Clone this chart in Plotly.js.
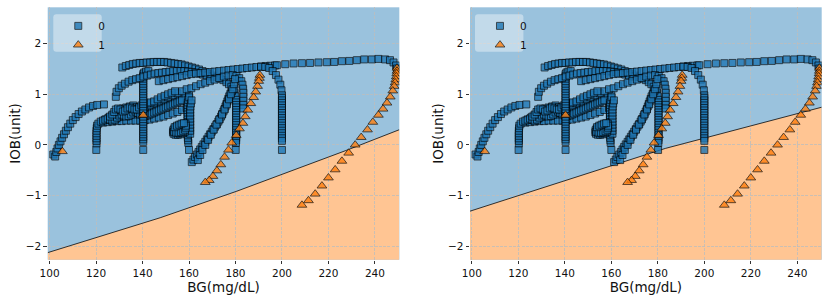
<!DOCTYPE html>
<html><head><meta charset="utf-8">
<script src="https://cdn.plot.ly/plotly-3.0.1.min.js"></script>
<style>html,body{margin:0;padding:0;background:#fff}#chart{width:830px;height:302px}</style>
</head><body><div id="chart"></div>
<script>
// ---- class 0 (squares): trajectories, [BG, IOB] ----
const lowCurve = [[101.6,-0.19],[102.4,-0.23],[102.9,-0.14],[103.4,-0.07],[104.0,0.00],[104.7,0.07],[105.4,0.14],[106.2,0.21],[107.0,0.28],[107.9,0.35],[108.9,0.42],[110.0,0.49],[111.2,0.55],[112.5,0.61],[113.9,0.66],[115.4,0.70],[117.0,0.74],[118.7,0.77],[120.5,0.79],[123.4,0.80]];
const col120 = [[120.1,-0.10],[120.2,0.03],[120.2,0.08],[120.2,0.13],[120.2,0.18],[120.2,0.23],[120.2,0.28],[120.3,0.33],[120.4,0.38]];
const darkLow = [[121,0.42],[123,0.44],[125,0.45],[127,0.46],[129,0.47],[131,0.47],[133,0.48],[135,0.48],[137,0.48],[139,0.48],[141,0.49],[143,0.5],[145,0.52],[147,0.54],[149,0.56],[151,0.59],[153,0.62],[155,0.65],[157,0.69],[159,0.73]];
const darkMid = [[124,0.5],[125.5,0.54],[127,0.55],[128.5,0.52],[130,0.55],[131.5,0.62],[133,0.66],[134.5,0.62],[136,0.6],[137.5,0.64],[139,0.68],[140.5,0.66],[142,0.64],[143.5,0.66],[145,0.7],[146.5,0.74],[148,0.76],[149.5,0.78],[151,0.8],[152.5,0.83],[154,0.86],[155.5,0.89],[157,0.92],[158.5,0.95],[160,0.98]];
const darkHigh = [[127,0.58],[128.5,0.62],[130,0.68],[131.5,0.72],[133,0.74],[134.5,0.76],[136,0.78],[137.5,0.75],[139,0.72],[141,0.74],[143,0.78],[145,0.82],[147,0.86],[149,0.9],[151,0.94],[153,0.98],[155,1.02],[157,1.06],[159,1.1]];
const darkWave = [[122,0.46],[123,0.48],[124,0.5],[125,0.52],[126,0.5],[127,0.48],[128,0.5],[129,0.54],[130,0.58],[131,0.6],[132,0.58],[133,0.56],[134,0.57],[135,0.6],[136,0.64],[137,0.66],[138,0.63],[139,0.6],[140,0.58],[141,0.57],[142,0.58],[143,0.6],[144,0.62],[145,0.64],[146,0.66],[147,0.68],[148,0.7],[149,0.72],[150,0.74],[151,0.76],[152,0.78],[153,0.8],[154,0.82],[155,0.84],[156,0.86],[157,0.88]];
const darkKnots = [[126,0.56],[127,0.6],[127.8,0.65],[128.5,0.7],[129.5,0.72],[130.5,0.7],[131.5,0.66],[132.5,0.68],[133.5,0.72],[134.5,0.74],[135.5,0.72],[136.5,0.7],[137.5,0.7],[138.5,0.74],[139.5,0.78],[140.5,0.8],[142,0.82],[143.5,0.84],[145,0.86],[146.5,0.9],[148,0.94],[149.5,0.97],[151,1.0],[152.5,1.03],[154,1.06]];
const col140 = [[140.3,-0.10],[140.3,0.06],[140.3,0.11],[140.3,0.16],[140.3,0.21],[140.3,0.26],[140.3,0.31],[140.3,0.36],[140.3,0.41],[140.3,0.46],[140.3,0.51],[140.3,0.56],[140.3,0.61],[140.3,0.66],[140.3,0.71],[140.3,0.76],[140.3,0.81],[140.3,0.86],[140.3,0.91],[140.3,0.96],[140.3,1.01],[140.3,1.06],[140.3,1.11],[140.3,1.16],[140.3,1.21],[140.3,1.26],[140.3,1.31],[140.3,1.36],[140.3,1.40],[140.7,1.43],[141.5,1.45],[142.5,1.46]];
const col160 = [[160.0,-0.10],[159.7,0.04],[159.6,0.09],[159.5,0.14],[159.5,0.19],[159.4,0.24],[159.4,0.29],[159.4,0.34],[159.4,0.39],[159.4,0.44],[159.4,0.49],[159.4,0.54],[159.4,0.59],[159.4,0.64],[159.4,0.69],[159.4,0.74],[159.4,0.79],[159.5,0.84],[159.7,0.89],[160.1,0.94]];
const col160b = [[160.5,0.22],[160.5,0.28],[160.5,0.34],[160.5,0.40],[160.5,0.46],[160.5,0.52],[160.5,0.58],[160.5,0.64],[160.5,0.70],[160.6,0.76],[160.8,0.82],[161.1,0.88]];
const blob = [[158.5,0.42],[157.5,0.41],[156.5,0.39],[155.5,0.37],[154.5,0.35],[153.7,0.32],[153.2,0.29],[153.1,0.25],[153.4,0.22],[154.2,0.20],[155.2,0.20],[156.2,0.21],[157.2,0.23],[158.2,0.26],[154.0,0.30],[155.0,0.28],[156.0,0.30],[157.0,0.33],[153.5,0.26],[154.5,0.24],[155.5,0.24],[156.5,0.25],[157.5,0.27],[158.3,0.30],[158.6,0.34],[158.6,0.38],[153.8,0.35],[154.8,0.38],[155.8,0.40],[156.8,0.42],[157.8,0.43]];
const upperRow = [[131.3,1.53],[132.8,1.56],[134.3,1.58],[135.8,1.60],[137.3,1.61],[138.8,1.62],[140.3,1.62],[141.8,1.63],[143.3,1.63],[144.8,1.64],[146.3,1.64],[147.8,1.64],[149.3,1.64],[150.8,1.63],[152.3,1.62],[153.8,1.61],[155.3,1.60],[156.8,1.59],[158.3,1.57],[159.8,1.55],[161.3,1.53],[162.8,1.51],[164.3,1.49],[165.8,1.46],[167.3,1.43],[168.8,1.40],[170.3,1.37],[171.8,1.34],[173.3,1.31],[174.8,1.28],[176.1,1.24],[177.2,1.20],[178.2,1.15],[179.0,1.09],[179.6,1.03],[180.0,0.96],[180.2,0.89]];
const col180 = [[180.3,0.84],[180.3,0.79],[180.3,0.74],[180.3,0.69],[180.3,0.64],[180.3,0.59],[180.3,0.54],[180.3,0.49],[180.3,0.44],[180.3,0.39],[180.3,0.34],[180.3,0.29],[180.3,0.24],[180.3,0.19],[180.3,0.14],[180.3,0.09],[180.2,0.04],[180.1,-0.10]];
const upperCurve = [[128.5,0.95],[128.8,1.05],[129.8,1.12],[131.0,1.17],[132.4,1.21],[134.0,1.25],[135.6,1.28],[137.2,1.30],[138.8,1.32],[140.4,1.35],[142.0,1.37],[143.6,1.39],[145.2,1.41],[146.8,1.42],[148.4,1.43],[150.0,1.44],[151.6,1.45],[153.2,1.46],[154.8,1.46],[156.4,1.46],[158.0,1.46],[159.6,1.45],[161.2,1.44],[162.8,1.43],[164.4,1.41],[166.0,1.39],[167.6,1.37],[169.2,1.35]];
const bandB = [[147,1.26],[149,1.28],[151,1.30],[153,1.32],[155,1.34],[157,1.36],[159,1.38],[161,1.40],[163,1.41],[165,1.42],[167,1.43],[169,1.44],[171,1.45],[173,1.46],[175,1.47],[177,1.48],[179,1.49],[181,1.50],[183,1.51],[185,1.52],[187,1.53],[189,1.54],[191,1.55],[193,1.56],[195,1.565],[197,1.57]];
const topRow = [[197.8,1.575],[201.4,1.595],[205.0,1.61],[208.6,1.615],[212.1,1.62],[215.7,1.63],[219.3,1.635],[222.5,1.64],[225.8,1.655],[229.0,1.66],[232.2,1.675],[235.4,1.69],[238.7,1.69],[241.5,1.70],[244.4,1.69],[246.5,1.675],[248.0,1.63],[249.1,1.57],[249.5,1.51]];
const bandC = [[161,1.12],[163,1.16],[165,1.20],[167,1.23],[169,1.26],[171,1.29],[173,1.32],[175,1.35],[177,1.37],[178.8,1.38],[180.4,1.36],[181.6,1.32],[182.5,1.26],[183.0,1.19],[183.3,1.11],[183.4,1.03],[183.4,0.95],[183.4,0.87],[183.4,0.79],[183.4,0.72]];
const curve200 = [[191.0,1.545],[192.8,1.54],[194.5,1.52],[196.0,1.46],[197.4,1.38],[198.5,1.29],[199.3,1.19],[199.8,1.08],[200,0.98]];
const col200 = [[200,0.93],[200,0.88],[200,0.83],[200,0.78],[200,0.73],[200,0.68],[200,0.63],[200,0.58],[200,0.53],[200,0.48],[200,0.43],[200,0.38],[200,0.33],[200,0.28],[200,0.23],[200,0.18],[200,0.13],[200,0.08],[200,-0.10]];
const bandE = [[161.2,-0.34],[161.9,-0.29],[162.6,-0.24],[163.4,-0.19],[164.1,-0.14],[164.8,-0.09],[165.5,-0.04],[166.2,0.01],[167.0,0.06],[167.7,0.11],[168.4,0.16],[169.1,0.21],[169.8,0.26],[170.5,0.31],[171.2,0.36],[172.0,0.41],[172.6,0.46],[173.2,0.51],[173.8,0.56],[174.3,0.61],[174.8,0.66],[175.3,0.71],[175.7,0.76],[176.1,0.81],[176.5,0.86],[176.9,0.91],[177.3,0.96],[177.8,1.01],[178.5,1.06],[179.5,1.11]];
const bandE2 = [[163.8,-0.30],[164.8,-0.20],[165.8,-0.10],[167.0,0.00],[168.2,0.10],[169.4,0.20],[170.6,0.30],[171.8,0.40],[173.0,0.50],[174.2,0.60],[175.3,0.70],[176.3,0.80],[177.2,0.90],[178.0,1.00],[178.7,1.10],[179.3,1.20],[179.8,1.30]];

// ---- class 1 (triangles) ----
const triLeftSingles = [[105.5,-0.13],[140.3,0.59]];
const triMiddle = [[190.5,1.38],[190.3,1.32],[190.0,1.26],[189.5,1.16],[188.7,1.05],[187.8,0.94],[186.6,0.82],[185.3,0.69],[184.2,0.56],[183.2,0.43],[181.7,0.32],[180.3,0.19],[178.4,0.04],[177.0,-0.10],[175.3,-0.24],[173.7,-0.39],[172.0,-0.51],[170.3,-0.62],[168.7,-0.70],[167.0,-0.74]];
const triRight = [[249.5,1.52],[249.5,1.46],[249.4,1.41],[249.2,1.35],[249.0,1.29],[248.7,1.23],[248.3,1.16],[247.7,1.07],[246.6,0.95],[245.2,0.83],[243.5,0.71],[241.5,0.59],[239.1,0.45],[236.8,0.30],[234.1,0.15],[231.5,0.00],[228.7,-0.16],[225.8,-0.32],[222.9,-0.49],[220.0,-0.65],[217.2,-0.81],[214.3,-0.97],[211.4,-1.10],[208.6,-1.19]];

// ---- decision boundaries (BG, IOB) ----
const boundaryLeftX = [99.2,147.6,180.6,227.9,250.5];
const boundaryLeftY = [-2.13,-1.44,-0.915,-0.105,0.30];
const boundaryRightX = [99.2,183.2,250.5];
const boundaryRightY = [-1.31,-0.07,0.745];

const classLabels = ['0','1'];
const xTicks = [100,120,140,160,180,200,220,240];
const yTicks = [-2,-1,0,1,2];

// ---- build ----
const class0 = [].concat(lowCurve,col120,darkLow,darkMid,darkHigh,darkWave,darkKnots,col140,col160,col160b,blob,upperRow,col180,upperCurve,bandB,topRow,bandC,curve200,col200,bandE,bandE2);
const class1 = [].concat(triLeftSingles,triMiddle,triRight);
const c0x = class0.map(p=>p[0]), c0y = class0.map(p=>p[1]);
const c1x = class1.map(p=>p[0]), c1y = class1.map(p=>p[1]);

const xRange = [99.2,250.5], yRange = [-2.27,2.72];
const BLUE='#1f77b4', ORANGE='#ff7f0e';
const W = 830, H = 302;

function regionPath(bx, by){
  const yb = yRange[0]-1;
  let d = 'M'+bx[0]+','+by[0];
  for(let i=1;i<bx.length;i++) d += 'L'+bx[i]+','+by[i];
  d += 'L'+bx[bx.length-1]+','+yb+'L'+bx[0]+','+yb+'Z';
  return d;
}

function tracesFor(xa, ya, leg, bx, by){
  return [
    {x:bx, y:by, xaxis:xa, yaxis:ya, mode:'lines', line:{color:'rgba(0,0,0,0.85)', width:0.9}, showlegend:false, hoverinfo:'skip'},
    {x:c0x, y:c0y, xaxis:xa, yaxis:ya, mode:'markers', name:classLabels[0], legend:leg,
     marker:{symbol:'square', size:7, color:BLUE, opacity:0.8, line:{color:'#000', width:0.8}}},
    {x:c1x, y:c1y, xaxis:xa, yaxis:ya, mode:'markers', name:classLabels[1], legend:leg,
     marker:{symbol:'triangle-up', size:8.5, color:ORANGE, opacity:0.8, line:{color:'#000', width:0.8}}}
  ];
}

const data = [].concat(
  tracesFor('x','y','legend',boundaryLeftX,boundaryLeftY),
  tracesFor('x2','y2','legend2',boundaryRightX,boundaryRightY)
);

const axFont = {family:'DejaVu Sans', size:10.5, color:'#111'};
const titleFont = {family:'DejaVu Sans', size:13.5, color:'#111'};
function xAxis(dom, anchor){
  return {domain:dom, anchor:anchor, range:xRange, tickvals:xTicks, ticks:'outside', ticklen:3.5, tickwidth:0.8, tickcolor:'#000',
    tickfont:axFont, showgrid:true, gridcolor:'#bdbdbd', gridwidth:0.8, griddash:'3px,1.3px', zeroline:false, showline:false,
    title:{text:'BG(mg/dL)', font:titleFont, standoff:0}, automargin:false, fixedrange:true};
}
function yAxis(anchor){
  return {domain:[0.14,0.9758], anchor:anchor, range:yRange, tickvals:yTicks, ticks:'outside', ticklen:3.5, tickwidth:0.8, tickcolor:'#000',
    tickfont:axFont, showgrid:true, gridcolor:'#bdbdbd', gridwidth:0.8, griddash:'3px,1.3px', zeroline:false, showline:false,
    title:{text:'IOB(unit)', font:titleFont, standoff:1}, automargin:false, fixedrange:true};
}
const legendBase = {xanchor:'left', yanchor:'top', bgcolor:'rgba(0,0,0,0)', borderwidth:0,
  font:{family:'DejaVu Sans', size:10.5, color:'#111'}, tracegroupgap:0};

// rounded legend frame, in paper coordinates
function legendBox(x0px){
  const x1px = x0px+48.4, y0px = 14.3, y1px = 51.7, r = 3;
  const X = v => v/W, Y = v => 1-v/H;
  const path = 'M'+X(x0px+r)+','+Y(y0px)+' L'+X(x1px-r)+','+Y(y0px)+' Q'+X(x1px)+','+Y(y0px)+' '+X(x1px)+','+Y(y0px+r)+
    ' L'+X(x1px)+','+Y(y1px-r)+' Q'+X(x1px)+','+Y(y1px)+' '+X(x1px-r)+','+Y(y1px)+
    ' L'+X(x0px+r)+','+Y(y1px)+' Q'+X(x0px)+','+Y(y1px)+' '+X(x0px)+','+Y(y1px-r)+
    ' L'+X(x0px)+','+Y(y0px+r)+' Q'+X(x0px)+','+Y(y0px)+' '+X(x0px+r)+','+Y(y0px)+' Z';
  return {type:'path', xref:'paper', yref:'paper', path:path, fillcolor:'rgba(255,255,255,0.4)', line:{width:0}, layer:'above'};
}

const layout = {
  width:W, height:H, margin:{l:0,r:0,t:0,b:0}, paper_bgcolor:'#fff', plot_bgcolor:'#9ac2dd',
  font:{family:'DejaVu Sans'}, hovermode:false,
  xaxis: xAxis([0.0575,0.4811],'y'), yaxis: yAxis('x'),
  xaxis2: xAxis([0.5663,0.99],'y2'), yaxis2: yAxis('x2'),
  legend: Object.assign({x:0.0702, y:0.9623}, legendBase),
  legend2: Object.assign({x:0.5783, y:0.9623}, legendBase),
  shapes:[
    {type:'path', xref:'x', yref:'y', path:regionPath(boundaryLeftX,boundaryLeftY), fillcolor:'#ffc593', line:{width:0}, layer:'below'},
    {type:'path', xref:'x2', yref:'y2', path:regionPath(boundaryRightX,boundaryRightY), fillcolor:'#ffc593', line:{width:0}, layer:'below'},
    legendBox(53.3), legendBox(475)
  ]
};
Plotly.newPlot('chart', data, layout, {displayModeBar:false, staticPlot:true});
</script></body></html>
